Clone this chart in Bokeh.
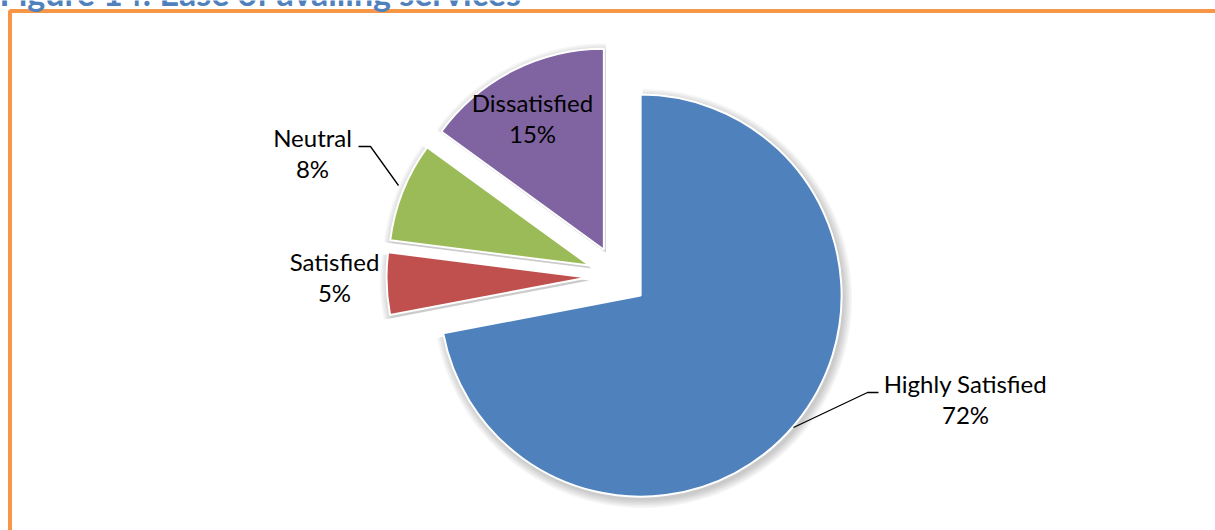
import math
from bokeh.plotting import figure
from bokeh.models import Range1d, Label, ColumnDataSource
from bokeh.core.properties import value
from bokeh.embed import file_html
from bokeh.resources import INLINE

# ---- data ----
categories = ["Highly Satisfied", "Satisfied", "Neutral", "Dissatisfied"]
values = [72, 5, 8, 15]
colors = ["#4F81BD", "#C0504D", "#9BBB59", "#8064A2"]
title_text = "Figure 14: Ease of availing services"

# ---- layout (pixels; y measured from top of the page) ----
W, H = 1215, 530
CX, CY = 617, 276          # pie centre
R = 201                    # pie radius
EXPLODE = 30               # explosion distance
FONT = "Lato"
FS = "24px"
TXT_SHIFT = 9              # svg baseline correction

def Y(sy):
    return H - sy

p = figure(width=W, height=H, output_backend="svg", toolbar_location=None,
           x_range=Range1d(0, W), y_range=Range1d(0, H), min_border=0)
p.axis.visible = False
p.grid.visible = False
p.outline_line_color = None
p.background_fill_color = "white"

# compute wedge angles (clockwise from 12 o'clock)
total = float(sum(values))
starts, ends, xs, ys = [], [], [], []
acc = 0.0
for v in values:
    a0 = acc / total * 360.0
    a1 = (acc + v) / total * 360.0
    acc += v
    mid = math.radians((a0 + a1) / 2)
    xs.append(CX + EXPLODE * math.sin(mid))
    ys.append(Y(CY + EXPLODE * -math.cos(mid)))
    starts.append(math.radians(90 - a0))
    ends.append(math.radians(90 - a1))

src = ColumnDataSource(dict(x=xs, y=ys, start=starts, end=ends, color=colors, cat=categories, val=values))

# soft shadow
for k in range(6):
    sh = ColumnDataSource(dict(x=[x + 2 for x in xs], y=[y - 3 for y in ys], start=starts, end=ends))
    p.wedge(x="x", y="y", radius=R + 1 + k * 1.5, start_angle="start", end_angle="end",
            direction="clock", source=sh, fill_color="#000000", fill_alpha=0.035,
            line_color=None)

p.wedge(x="x", y="y", radius=R, start_angle="start", end_angle="end", direction="clock",
        source=src, fill_color="color", line_color="white", line_width=2)

# leader lines
p.line(x=[358, 370, 398], y=[Y(146), Y(146), Y(185)], line_color="black", line_width=1.3)
p.line(x=[878, 867, 793], y=[Y(392), Y(392), Y(427)], line_color="black", line_width=1.3)

# data labels
label_pos = {  # centre x, baseline of first line (screen y)
    "Highly Satisfied": (965, 392),
    "Satisfied": (334, 270),
    "Neutral": (312, 146),
    "Dissatisfied": (532, 111),
}
lx, ly, lt = [], [], []
for c, v in zip(categories, values):
    x0, b0 = label_pos[c]
    lx += [x0, x0]
    ly += [Y(b0 - TXT_SHIFT), Y(b0 + 31 - TXT_SHIFT)]
    lt += [c, f"{v}%"]
p.text(x=lx, y=ly, text=lt, text_font=value(FONT), text_font_size=FS,
       text_align="center", text_baseline="alphabetic", text_color="black")

# frame border
p.quad(left=[9.5], right=[1216.5], top=[Y(10.5)], bottom=[-20], fill_color=None,
       line_color="#F79646", line_width=4)

# title (mostly cut off at the top, as in the source)
p.add_layout(Label(x=-1, y=Y(-8), text=title_text, text_font=FONT, text_font_style="bold",
                   text_font_size="34px", text_color="#4F81BD", text_baseline="alphabetic"))

open("out.html", "w").write(file_html(p, INLINE))
